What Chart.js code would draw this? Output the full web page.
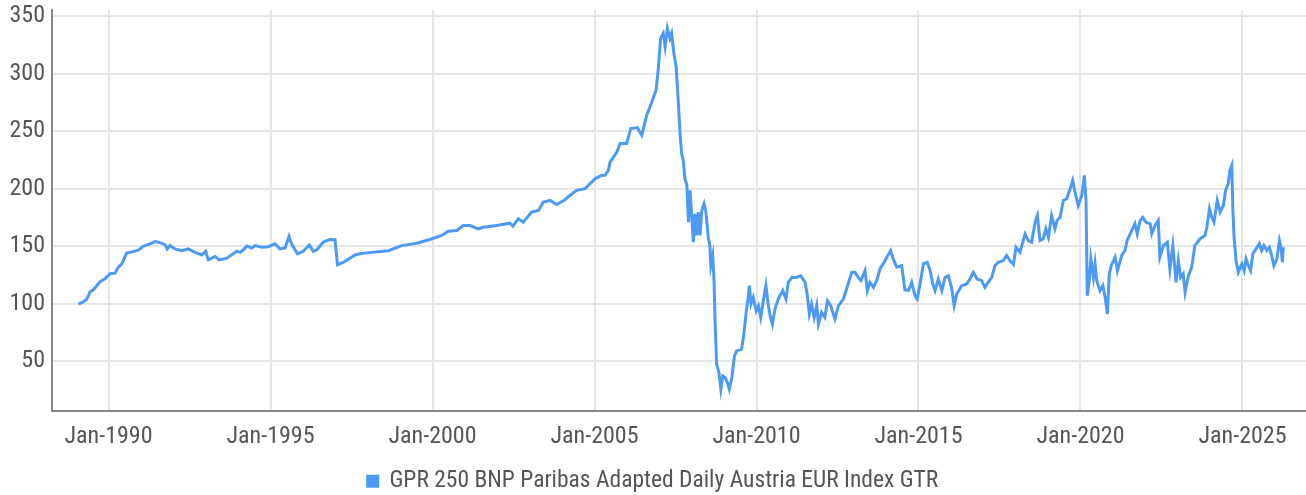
<!DOCTYPE html>
<html>
<head>
<meta charset="utf-8">
<title>GPR 250 BNP Paribas Adapted Daily Austria EUR Index GTR</title>
<script src="https://cdn.jsdelivr.net/npm/chart.js@4.4.1/dist/chart.umd.min.js"></script>
<style>
  html, body { margin: 0; padding: 0; background: #fff; }
  #wrap { width: 1306px; height: 495px; }
</style>
</head>
<body>
<div id="wrap"><canvas id="indexChart"></canvas></div>
<script>
const seriesName = 'GPR 250 BNP Paribas Adapted Daily Austria EUR Index GTR';

// dates as decimal years
const years = [
  1989.07, 1989.22, 1989.33, 1989.43, 1989.53, 1989.64, 1989.74, 1989.89, 1990.05, 1990.20,
  1990.30, 1990.41, 1990.56, 1990.72, 1990.92, 1991.07, 1991.28, 1991.44, 1991.59, 1991.74,
  1991.81, 1991.90, 1992.05, 1992.26, 1992.46, 1992.67, 1992.88, 1993.00, 1993.08, 1993.29,
  1993.42, 1993.65, 1993.85, 1993.96, 1994.06, 1994.16, 1994.27, 1994.42, 1994.52, 1994.73,
  1994.93, 1995.14, 1995.29, 1995.45, 1995.57, 1995.65, 1995.83, 1996.01, 1996.20, 1996.32,
  1996.43, 1996.63, 1996.84, 1996.99, 1997.07, 1997.25, 1997.45, 1997.61, 1997.76, 1997.97,
  1998.64, 1999.05, 1999.51, 1999.92, 2000.28, 2000.49, 2000.75, 2000.95, 2001.16, 2001.41,
  2001.57, 2001.98, 2002.39, 2002.48, 2002.65, 2002.80, 2003.06, 2003.27, 2003.42, 2003.63,
  2003.83, 2004.09, 2004.24, 2004.45, 2004.71, 2005.02, 2005.22, 2005.32, 2005.43, 2005.48,
  2005.69, 2005.79, 2005.99, 2006.12, 2006.32, 2006.46, 2006.61, 2006.77, 2006.90, 2006.97,
  2007.04, 2007.12, 2007.18, 2007.25, 2007.33, 2007.38, 2007.45, 2007.52, 2007.59, 2007.64,
  2007.69, 2007.74, 2007.79, 2007.85, 2007.90, 2007.95, 2008.05, 2008.10, 2008.15, 2008.20,
  2008.26, 2008.31, 2008.38, 2008.44, 2008.51, 2008.56, 2008.59, 2008.65, 2008.69, 2008.72,
  2008.77, 2008.84, 2008.90, 2008.96, 2009.03, 2009.10, 2009.16, 2009.24, 2009.32, 2009.39,
  2009.54, 2009.61, 2009.68, 2009.73, 2009.78, 2009.83, 2009.90, 2009.99, 2010.06, 2010.13,
  2010.21, 2010.29, 2010.36, 2010.42, 2010.49, 2010.57, 2010.67, 2010.81, 2010.91, 2010.98,
  2011.09, 2011.24, 2011.36, 2011.50, 2011.57, 2011.63, 2011.70, 2011.78, 2011.86, 2011.91,
  2012.01, 2012.11, 2012.19, 2012.29, 2012.42, 2012.53, 2012.68, 2012.78, 2012.94, 2013.04,
  2013.14, 2013.22, 2013.35, 2013.42, 2013.50, 2013.61, 2013.71, 2013.81, 2013.94, 2014.02,
  2014.14, 2014.22, 2014.33, 2014.48, 2014.58, 2014.69, 2014.79, 2014.89, 2014.96, 2015.05,
  2015.15, 2015.27, 2015.36, 2015.44, 2015.51, 2015.61, 2015.72, 2015.82, 2015.92, 2016.02,
  2016.10, 2016.18, 2016.33, 2016.49, 2016.59, 2016.69, 2016.81, 2016.95, 2017.05, 2017.15,
  2017.26, 2017.36, 2017.46, 2017.62, 2017.72, 2017.82, 2017.93, 2018.01, 2018.13, 2018.29,
  2018.39, 2018.49, 2018.60, 2018.67, 2018.75, 2018.85, 2018.93, 2019.01, 2019.11, 2019.21,
  2019.28, 2019.37, 2019.47, 2019.57, 2019.68, 2019.76, 2019.83, 2019.93, 2020.04, 2020.12,
  2020.17, 2020.21, 2020.27, 2020.32, 2020.40, 2020.45, 2020.50, 2020.60, 2020.69, 2020.76,
  2020.83, 2020.89, 2020.96, 2021.07, 2021.14, 2021.27, 2021.37, 2021.44, 2021.58, 2021.68,
  2021.75, 2021.84, 2021.92, 2022.02, 2022.15, 2022.20, 2022.30, 2022.40, 2022.45, 2022.56,
  2022.68, 2022.76, 2022.85, 2022.95, 2023.02, 2023.09, 2023.17, 2023.23, 2023.33, 2023.43,
  2023.53, 2023.69, 2023.84, 2023.90, 2023.98, 2024.05, 2024.12, 2024.22, 2024.31, 2024.41,
  2024.48, 2024.56, 2024.61, 2024.67, 2024.70, 2024.74, 2024.80, 2024.87, 2024.98, 2025.05,
  2025.11, 2025.18, 2025.25, 2025.32, 2025.42, 2025.52, 2025.59, 2025.66, 2025.75, 2025.83,
  2025.90, 2025.97, 2026.06, 2026.14, 2026.19, 2026.23, 2026.26
];

const values = [
  99.6, 101.5, 104, 110, 112, 115.6, 119, 121.5, 126, 126.5,
  131.5, 134.5, 144, 145, 146.5, 149.8, 152, 154, 153, 151.3,
  147.5, 150.5, 147.5, 146, 147.5, 144.5, 142.3, 145.5, 138, 141,
  138, 139.5, 143.3, 145.5, 144.5, 146.8, 150, 148.3, 150.4, 149,
  149.5, 152, 147.5, 148.3, 158.5, 152, 143.3, 145.5, 151, 145.5,
  146.8, 153.5, 155.8, 155.5, 133.7, 136, 139.5, 142.3, 143.3, 144.1,
  146, 150.4, 152.5, 155.7, 159.2, 162.9, 163.5, 167.9, 167.9, 165,
  166.4, 167.9, 169.9, 167.3, 173.7, 170.8, 179.5, 181, 188.2, 189.7,
  186.2, 190.3, 194, 198.4, 199.9, 208.6, 211.5, 211.5, 215.8, 223,
  231.8, 239.1, 239.1, 252.2, 253, 246.3, 263.7, 275.3, 285.5, 304.4,
  330.6, 334.9, 323.3, 339.3, 330.6, 334.9, 317.5, 305.8, 273.9, 247.8,
  230.4, 224.5, 208.6, 203, 170.8, 198.4, 153.4, 178.1, 159.2, 179.5,
  159.2, 181, 186.8, 179.5, 157.7, 150.5, 133, 141.8, 119.8, 85,
  47.4, 40.1, 25.6, 37.2, 35.8, 31.4, 25.6, 35.8, 54.6, 59,
  60.4, 73.5, 92.4, 102.5, 115.6, 99.7, 105.5, 93.8, 98.2, 88,
  102.5, 115.6, 99.7, 89.5, 82.2, 95.3, 104, 111.3, 104, 118.5,
  122.8, 122.8, 124.3, 118.5, 106.9, 91, 99.7, 88, 98.2, 82.2,
  92.4, 88, 102.5, 98.2, 86.6, 98.2, 104, 112.7, 127.2, 127.2,
  122.8, 120, 128.7, 111.3, 118.5, 114.1, 120, 130.1, 135.9, 140.3,
  146.1, 138.9, 131.6, 133, 112, 111.3, 118.5, 106.9, 104, 117.1,
  134.5, 135.9, 128.7, 117.1, 111.3, 121.4, 111.3, 122.8, 124.3, 114.1,
  98.2, 108.4, 115.6, 117.1, 121.4, 127.2, 121.4, 120, 114.1, 118.5,
  122.8, 133, 135.9, 137.4, 141.8, 137.4, 134, 149, 144.6, 160.6,
  154.8, 153.4, 170.8, 176.6, 154.8, 156.3, 165, 157.7, 176.6, 165,
  172.2, 175.1, 189.7, 191.1, 199.8, 207.1, 196.9, 185.3, 194, 211.5,
  190, 106.9, 120, 138.9, 122.8, 134.5, 120, 111.3, 115.6, 105.5,
  91, 126.6, 133.7, 140.3, 128.7, 141.8, 146.1, 154.8, 163.5, 169.4,
  160.6, 172.2, 175.1, 170.8, 169.4, 160.6, 167.9, 172.2, 140.3, 150.5,
  153.4, 130.1, 150.5, 118.5, 137.4, 122.8, 125.8, 109.8, 124.3, 131.6,
  150.5, 156.3, 159.2, 166.4, 182.4, 175.1, 170.8, 189.7, 179.5, 185.3,
  198.4, 204.2, 215.8, 220.2, 183.9, 157.7, 137.4, 127.2, 134.5, 128.7,
  138.9, 133, 128.7, 143.3, 147.6, 152, 146.1, 150.5, 146.1, 149,
  141.8, 133, 138.9, 154.8, 149, 136, 149
];

const xTickYears = [1990, 1995, 2000, 2005, 2010, 2015, 2020, 2025];
const yTicks = [50, 100, 150, 200, 250, 300, 350];

const fontFamily = "'Liberation Sans Narrow', 'Roboto Condensed', 'DejaVu Sans Condensed', sans-serif";
const textColor = '#555555';
const lineColor = '#4d9af5';

new Chart(document.getElementById('indexChart'), {
  type: 'line',
  data: {
    datasets: [{
      label: seriesName,
      data: years.map((yr, i) => ({ x: yr, y: values[i] })),
      borderColor: lineColor,
      backgroundColor: lineColor,
      borderWidth: 3,
      pointRadius: 0,
      tension: 0,
      fill: false
    }]
  },
  options: {
    responsive: true,
    maintainAspectRatio: false,
    animation: false,
    layout: { padding: { top: 10, right: 0, bottom: -8, left: 0 } },
    scales: {
      x: {
        type: 'linear',
        min: 1988.256,
        max: 2026.96,
        afterBuildTicks: axis => { axis.ticks = xTickYears.map(v => ({ value: v })); },
        afterFit: axis => { axis.height = 49; axis.paddingLeft = 0; axis.paddingRight = 0; },
        ticks: {
          autoSkip: false,
          maxRotation: 0,
          padding: 12,
          color: textColor,
          font: { family: fontFamily, size: 24 },
          callback: v => 'Jan-' + v
        },
        grid: { color: '#e6e6e6', lineWidth: 2, drawTicks: false },
        border: { color: '#888888', width: 2 }
      },
      y: {
        min: 7.1,
        max: 355.2,
        afterBuildTicks: axis => { axis.ticks = yTicks.map(v => ({ value: v })); },
        afterFit: axis => { axis.width = 52; axis.paddingTop = 0; axis.paddingBottom = 0; },
        ticks: {
          padding: 7,
          color: textColor,
          font: { family: fontFamily, size: 24 }
        },
        grid: { color: '#e6e6e6', lineWidth: 2, drawTicks: false },
        border: { color: '#888888', width: 2 }
      }
    },
    plugins: {
      legend: {
        position: 'bottom',
        labels: {
          boxWidth: 10,
          boxHeight: 10,
          padding: 10,
          color: textColor,
          font: { family: fontFamily, size: 23.5 }
        }
      },
      tooltip: { enabled: false }
    }
  }
});
</script>
</body>
</html>
